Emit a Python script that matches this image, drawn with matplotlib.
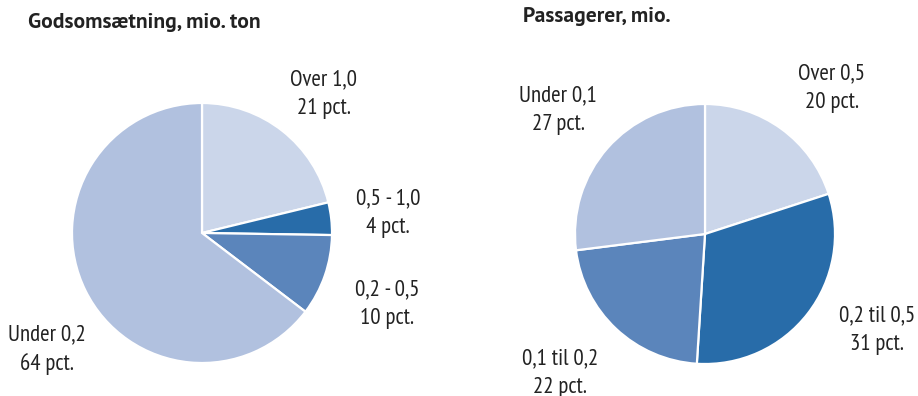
import matplotlib
matplotlib.use("Agg")
import matplotlib.pyplot as plt

W, H = 918, 396

gods_labels = ["Over 1,0", "0,5 - 1,0", "0,2 - 0,5", "Under 0,2"]
gods_pct = [21, 4, 10, 64]
pass_labels = ["Over 0,5", "0,2 til 0,5", "0,1 til 0,2", "Under 0,1"]
pass_pct = [20, 31, 22, 27]

light = "#cbd6ea"
pale = "#b1c1df"
mid = "#5b85bb"
dark = "#286ca9"
gods_colors = [light, dark, mid, pale]
pass_colors = [light, dark, mid, pale]

label_font = dict(family=["PT Sans Narrow", "DejaVu Sans"], size=16.5, color="#222222")
title_font = dict(family=["PT Sans", "DejaVu Sans"], size=15.5, weight="bold", color="#222222")

fig = plt.figure(figsize=(W / 100, H / 100), dpi=100)


def px_axes(cx, cy, r):
    # axes box in pixel coordinates, centred on the pie
    return fig.add_axes([(cx - r) / W, (H - cy - r) / H, 2 * r / W, 2 * r / H])


def draw_pie(ax, values, colors):
    ax.pie(values, colors=colors, startangle=90, counterclock=False,
           wedgeprops=dict(edgecolor="white", linewidth=1.6))
    ax.set_xlim(-1, 1)
    ax.set_ylim(-1, 1)
    ax.set_aspect("equal")
    ax.axis("off")


def label(x, y, name, pct):
    fig.text(x / W, 1 - y / H, f"{name}\n{pct} pct.", ha="center", va="center",
             multialignment="center", linespacing=1.45, **label_font)


ax1 = px_axes(202, 233, 130)
draw_pie(ax1, gods_pct, gods_colors)
ax2 = px_axes(705, 234, 130)
draw_pie(ax2, pass_pct, pass_colors)

fig.text(28 / W, 1 - 22 / H, "Godsomsætning, mio. ton", ha="left", va="center", **title_font)
fig.text(523 / W, 1 - 17 / H, "Passagerer, mio.", ha="left", va="center", **title_font)

# labels for the left pie
label(324, 94, gods_labels[0], gods_pct[0])
label(388, 213, gods_labels[1], gods_pct[1])
label(387, 304, gods_labels[2], gods_pct[2])
label(47, 350, gods_labels[3], gods_pct[3])

# labels for the right pie
label(832, 88, pass_labels[0], pass_pct[0])
label(877, 330, pass_labels[1], pass_pct[1])
label(560, 373, pass_labels[2], pass_pct[2])
label(558, 110, pass_labels[3], pass_pct[3])

fig.savefig("out.png", dpi=100)
